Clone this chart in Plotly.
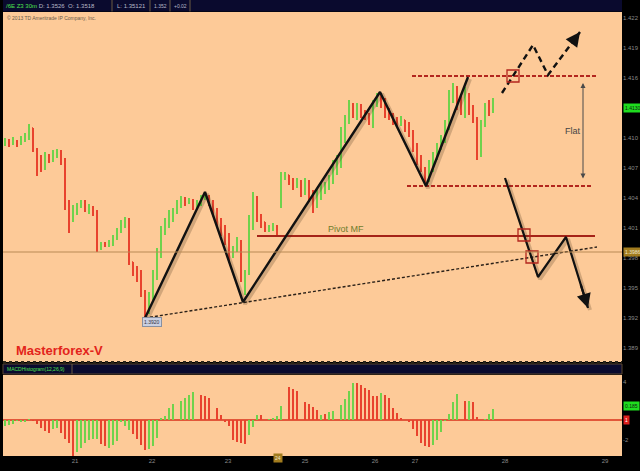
import plotly.graph_objects as go
from plotly.subplots import make_subplots

W, H = 640, 471


def fx(px):
    return px / W


def fy(py):
    return 1 - py / H


# ---------------- data ----------------
bar_index = list(range(123))

open_ = [1.4094, 1.4096, 1.4095, 1.4097, 1.4094, 1.4098, 1.4101, 1.4110, 1.4088, 1.4075,
         1.4070, 1.4080, 1.4078, 1.4083, 1.4086, 1.4078, 1.4033, 1.4018, 1.4028, 1.4032,
         1.4036, 1.4030, 1.4031, 1.4026, 1.3990, 1.3994, 1.3993, 1.3995, 1.4000, 1.4006,
         1.4013, 1.4018, 1.3976, 1.3968, 1.3966, 1.3946, 1.3926, 1.3940, 1.3963, 1.3983,
         1.4006, 1.4016, 1.4023, 1.4026, 1.4033, 1.4038, 1.4036, 1.4038, 1.4033, 1.4034,
         1.4040, 1.4042, 1.4036, 1.4028, 1.4018, 1.4010, 1.4003, 1.3986, 1.3988, 1.3996,
         1.3963, 1.3966, 1.4013, 1.4038, 1.4023, 1.4016, 1.4010, 1.4011, 1.4012, 1.4033,
         1.4060, 1.4063, 1.4058, 1.4053, 1.4055, 1.4048, 1.4055, 1.4043, 1.4033, 1.4043,
         1.4048, 1.4052, 1.4058, 1.4070, 1.4078, 1.4103, 1.4118, 1.4134, 1.4128, 1.4130,
         1.4126, 1.4123, 1.4116, 1.4133, 1.4141, 1.4138, 1.4128, 1.4123, 1.4118, 1.4116,
         1.4118, 1.4113, 1.4106, 1.4093, 1.4081, 1.4070, 1.4058, 1.4070, 1.4080, 1.4088,
         1.4098, 1.4110, 1.4138, 1.4150, 1.4138, 1.4130, 1.4143, 1.4128, 1.4120, 1.4083,
         1.4113, 1.4130, 1.4126]

high = [1.4100, 1.4099, 1.4101, 1.4098, 1.4102, 1.4105, 1.4114, 1.4110, 1.4090, 1.4083,
        1.4086, 1.4084, 1.4088, 1.4089, 1.4088, 1.4080, 1.4038, 1.4033, 1.4035, 1.4038,
        1.4038, 1.4034, 1.4032, 1.4028, 1.3996, 1.3996, 1.3998, 1.4003, 1.4010, 1.4018,
        1.4021, 1.4020, 1.3976, 1.3972, 1.3968, 1.3948, 1.3946, 1.3968, 1.3990, 1.4012,
        1.4020, 1.4028, 1.4030, 1.4038, 1.4042, 1.4041, 1.4040, 1.4039, 1.4038, 1.4043,
        1.4046, 1.4043, 1.4038, 1.4030, 1.4020, 1.4013, 1.4005, 1.3992, 1.4001, 1.3998,
        1.3968, 1.4023, 1.4046, 1.4042, 1.4024, 1.4016, 1.4013, 1.4015, 1.4013, 1.4066,
        1.4066, 1.4063, 1.4060, 1.4060, 1.4058, 1.4060, 1.4058, 1.4048, 1.4050, 1.4055,
        1.4056, 1.4063, 1.4078, 1.4083, 1.4111, 1.4123, 1.4138, 1.4135, 1.4135, 1.4134,
        1.4128, 1.4125, 1.4138, 1.4145, 1.4145, 1.4140, 1.4130, 1.4125, 1.4121, 1.4122,
        1.4118, 1.4116, 1.4108, 1.4095, 1.4083, 1.4071, 1.4078, 1.4086, 1.4095, 1.4103,
        1.4118, 1.4148, 1.4155, 1.4152, 1.4143, 1.4151, 1.4145, 1.4133, 1.4121, 1.4118,
        1.4135, 1.4138, 1.4140]

low = [1.4092, 1.4091, 1.4093, 1.4091, 1.4093, 1.4096, 1.4098, 1.4086, 1.4062, 1.4066,
       1.4068, 1.4075, 1.4076, 1.4080, 1.4073, 1.4028, 1.4005, 1.4016, 1.4023, 1.4030,
       1.4026, 1.4024, 1.4022, 1.3986, 1.3988, 1.3991, 1.3991, 1.3992, 1.3998, 1.4005,
       1.4010, 1.3973, 1.3962, 1.3956, 1.3941, 1.3920, 1.3924, 1.3938, 1.3958, 1.3980,
       1.4003, 1.4010, 1.4016, 1.4024, 1.4030, 1.4032, 1.4034, 1.4028, 1.4030, 1.4032,
       1.4038, 1.4032, 1.4023, 1.4012, 1.4002, 1.3993, 1.3976, 1.3980, 1.3986, 1.3956,
       1.3943, 1.3963, 1.4008, 1.4016, 1.4010, 1.4006, 1.4006, 1.4007, 1.4003, 1.4030,
       1.4058, 1.4053, 1.4048, 1.4050, 1.4041, 1.4043, 1.4036, 1.4025, 1.4030, 1.4038,
       1.4044, 1.4048, 1.4054, 1.4063, 1.4070, 1.4095, 1.4114, 1.4120, 1.4118, 1.4120,
       1.4118, 1.4113, 1.4110, 1.4131, 1.4130, 1.4120, 1.4118, 1.4113, 1.4111, 1.4112,
       1.4106, 1.4101, 1.4086, 1.4073, 1.4066, 1.4053, 1.4056, 1.4066, 1.4078, 1.4088,
       1.4095, 1.4108, 1.4135, 1.4128, 1.4123, 1.4120, 1.4123, 1.4115, 1.4078, 1.4081,
       1.4111, 1.4122, 1.4125]

close = [1.4096, 1.4095, 1.4097, 1.4094, 1.4098, 1.4101, 1.4110, 1.4088, 1.4075, 1.4070,
         1.4080, 1.4078, 1.4083, 1.4086, 1.4078, 1.4033, 1.4018, 1.4028, 1.4032, 1.4036,
         1.4030, 1.4031, 1.4026, 1.3990, 1.3994, 1.3993, 1.3995, 1.4000, 1.4006, 1.4013,
         1.4018, 1.3976, 1.3968, 1.3966, 1.3946, 1.3926, 1.3940, 1.3963, 1.3983, 1.4006,
         1.4016, 1.4023, 1.4026, 1.4033, 1.4038, 1.4036, 1.4038, 1.4033, 1.4034, 1.4040,
         1.4042, 1.4036, 1.4028, 1.4018, 1.4010, 1.4003, 1.3986, 1.3988, 1.3996, 1.3963,
         1.3966, 1.4013, 1.4038, 1.4023, 1.4016, 1.4010, 1.4011, 1.4012, 1.4006, 1.4060,
         1.4063, 1.4058, 1.4053, 1.4055, 1.4048, 1.4055, 1.4043, 1.4033, 1.4043, 1.4048,
         1.4052, 1.4058, 1.4070, 1.4078, 1.4103, 1.4118, 1.4134, 1.4128, 1.4130, 1.4126,
         1.4123, 1.4116, 1.4133, 1.4141, 1.4138, 1.4128, 1.4123, 1.4118, 1.4116, 1.4118,
         1.4113, 1.4106, 1.4093, 1.4081, 1.4070, 1.4058, 1.4070, 1.4080, 1.4088, 1.4098,
         1.4110, 1.4138, 1.4150, 1.4138, 1.4130, 1.4143, 1.4128, 1.4120, 1.4083, 1.4113,
         1.4130, 1.4126, 1.4133]

macd_hist = [-0.6, -0.5, -0.4, -0.1, -0.2, -0.2, 0.1, -0.1, -0.4, -0.8,
             -1.1, -1.3, -0.9, -0.8, -1.3, -1.9, -2.3, -3.6, -3.2, -2.8,
             -2.3, -2.0, -1.9, -1.9, -2.4, -2.6, -2.8, -2.5, -2.1, -0.2,
             -0.6, -1.0, -1.4, -1.9, -2.5, -3.0, -2.9, -2.6, -1.8, 0.2,
             0.4, 1.2, 1.6, 0.0, 1.9, 2.2, 2.5, 2.8, 0.0, 2.5,
             2.4, 2.2, 0.0, 1.2, 0.5, -0.2, -0.6, -2.0, -2.2, -2.3,
             -2.4, -1.5, -0.7, 0.5, 0.5, 0.0, 0.1, 0.2, 0.4, 1.4,
             0.0, 3.3, 3.1, 2.9, 0.0, 1.8, 1.6, 1.3, 1.0, 0.5,
             0.6, 0.8, 0.9, 0.0, 1.5, 2.1, 2.9, 3.7, 3.7, 3.5,
             3.2, 3.0, 2.4, 2.4, 2.7, 2.5, 2.2, 1.2, 0.7, 0.2,
             0.0, -0.2, -0.9, -1.6, -2.3, -2.6, -2.7, -2.5, -2.0, -1.2,
             -0.1, 0.6, 1.8, 2.6, 0.0, 1.9, 1.9, 1.8, 0.3, 0.0,
             0.1, 0.6, 1.1]

hist_dir = ("gggggggrrr" "rrggrrrrgg" "ggggrrgggg" "ggrrrrgggg" "ggggggggrr"
            "rrrrrrrrrr" "rgggrggggg" "rrrrrrrrrg" "rgggggggrr" "rrrrgrrrrr"
            "rrrrrrrggg" "ggggrrgrrg" "ggg")

# drawn analysis (bar index, price)
zigzag_x = [35, 50, 59.5, 93.75, 105.25, 115.75]
zigzag_y = [1.3920, 1.4046, 1.3936, 1.4146, 1.4052, 1.4161]
trend_x = [35, 148]
trend_y = [1.3920, 1.3991]
flat_top_x = [101.75, 148]
flat_top_y = [1.4162, 1.4162]
flat_bot_x = [100.5, 146.75]
flat_bot_y = [1.4052, 1.4052]
pivot_x = [63, 147.5]
pivot_y = [1.4002, 1.4002]
last_price = 1.3986
up_path_x = [124.25, 132, 135.75, 143.75]
up_path_y = [1.4145, 1.4193, 1.4163, 1.4206]
down_path_x = [125, 133.25, 140.25, 145.75]
down_path_y = [1.4060, 1.3961, 1.4001, 1.3930]
box_x = [127, 129.75, 131.75]
box_y = [1.4162, 1.4003, 1.3981]
flat_arrow_x = 144.5
flat_arrow_y = [1.4155, 1.4058]

price_ticks = [1.4220, 1.4190, 1.4160, 1.4100, 1.4070, 1.4040, 1.4010, 1.3980, 1.3950, 1.3920, 1.3890]
price_tick_text = ["1.422", "1.419", "1.416", "1.410", "1.407", "1.404", "1.401", "1.398", "1.395", "1.392", "1.389"]
hist_ticks = [3.8, -2.0]
hist_tick_text = ["4", "-2"]
time_tick_pos = [17.5, 36.75, 55.75, 75, 92.5, 102.5, 125, 150]
time_tick_text = ["21", "22", "23", "25", "26", "27", "28", "29"]

GREEN = "#6fd24c"
RED = "#e8432e"
PEACH = "#fdca98"
NAVY = "#0a0a2e"

# shadow offset for hand-drawn lines (in data units ~ 2px right, 2px down)
SHX, SHY = 0.5, -0.0002

fig = make_subplots(rows=2, cols=1, shared_xaxes=True)

fig.add_trace(go.Ohlc(x=bar_index, open=open_, high=high, low=low, close=close,
                      increasing=dict(line=dict(color=GREEN, width=2)),
                      decreasing=dict(line=dict(color=RED, width=2)),
                      tickwidth=0.2, hoverinfo="skip"), row=1, col=1)

fig.add_trace(go.Bar(x=bar_index, y=macd_hist,
                     marker=dict(color=[GREEN if c == "g" else RED for c in hist_dir], line=dict(width=0)),
                     width=0.5, hoverinfo="skip"), row=2, col=1)

# trend (dotted)
fig.add_trace(go.Scatter(x=trend_x, y=trend_y, mode="lines",
                         line=dict(color="#2a2018", width=1.4, dash="3px,2px"), hoverinfo="skip"), row=1, col=1)
# flat range lines
for xs, ys in [(flat_top_x, flat_top_y), (flat_bot_x, flat_bot_y)]:
    fig.add_trace(go.Scatter(x=xs, y=ys, mode="lines",
                             line=dict(color="#b3261e", width=2, dash="4px,2px"), hoverinfo="skip"), row=1, col=1)
# pivot line
fig.add_trace(go.Scatter(x=pivot_x, y=pivot_y, mode="lines",
                         line=dict(color="#a52318", width=2), hoverinfo="skip"), row=1, col=1)
# soft shadows under the drawn lines
for xs, ys in [(zigzag_x, zigzag_y), (down_path_x, down_path_y)]:
    fig.add_trace(go.Scatter(x=[v + SHX for v in xs], y=[v + SHY for v in ys], mode="lines",
                             line=dict(color="rgba(60,40,20,0.22)", width=4), hoverinfo="skip"), row=1, col=1)
# zigzag
fig.add_trace(go.Scatter(x=zigzag_x, y=zigzag_y, mode="lines",
                         line=dict(color="#111111", width=2.4), hoverinfo="skip"), row=1, col=1)
# projected paths
fig.add_trace(go.Scatter(x=up_path_x, y=up_path_y, mode="lines",
                         line=dict(color="#111111", width=2.4, dash="6px,4px"), hoverinfo="skip"), row=1, col=1)
fig.add_trace(go.Scatter(x=down_path_x, y=down_path_y, mode="lines",
                         line=dict(color="#111111", width=2.2), hoverinfo="skip"), row=1, col=1)
# red boxes
fig.add_trace(go.Scatter(x=box_x, y=box_y, mode="markers",
                         marker=dict(symbol="square-open", size=12, color="#b3261e", line=dict(width=1.3)),
                         hoverinfo="skip"), row=1, col=1)

shapes = []
# current price line
shapes.append(dict(type="line", xref="x domain", yref="y", x0=0, x1=1, y0=last_price, y1=last_price,
                   line=dict(color="#b98a55", width=1)))
# header bars
shapes.append(dict(type="rect", xref="paper", yref="paper", x0=fx(3), x1=fx(622), y0=fy(11.5), y1=1,
                   fillcolor=NAVY, line=dict(width=0), layer="above"))
for sx in [112, 150, 170, 190]:
    shapes.append(dict(type="line", xref="paper", yref="paper", x0=fx(sx), x1=fx(sx), y0=fy(11.5), y1=1,
                       line=dict(color="#6a5a40", width=1), layer="above"))
shapes.append(dict(type="rect", xref="paper", yref="paper", x0=fx(3), x1=fx(622), y0=fy(374), y1=fy(364),
                   fillcolor=NAVY, line=dict(color="#5a4630", width=1), layer="above"))
shapes.append(dict(type="line", xref="paper", yref="paper", x0=fx(72), x1=fx(72), y0=fy(374), y1=fy(364),
                   line=dict(color="#6a5a40", width=1), layer="above"))
shapes.append(dict(type="line", xref="paper", yref="paper", x0=fx(3), x1=fx(622), y0=fy(362), y1=fy(362),
                   line=dict(color="#2a2418", width=2, dash="dot"), layer="above"))

ann = []
small = dict(family="Liberation Sans, Arial, sans-serif", size=6)
ann.append(dict(xref="paper", yref="paper", x=fx(4), y=fy(6), xanchor="left", yanchor="middle", showarrow=False,
                text="<span style='color:#4fe04f'>/6E Z3 30m</span> <span style='color:#b8b8c8'>D: 1.3526  O: 1.3518</span>",
                font=small))
ann.append(dict(xref="paper", yref="paper", x=fx(115), y=fy(6), xanchor="left", yanchor="middle", showarrow=False,
                text="L: 1.35121", font=dict(small, color="#b8b8c8")))
ann.append(dict(xref="paper", yref="paper", x=fx(152), y=fy(6), xanchor="left", yanchor="middle", showarrow=False,
                text="1.352", font=dict(small, size=5, color="#b8b8c8")))
ann.append(dict(xref="paper", yref="paper", x=fx(172), y=fy(6), xanchor="left", yanchor="middle", showarrow=False,
                text="+0.02", font=dict(small, size=5, color="#b8b8c8")))
ann.append(dict(xref="paper", yref="paper", x=fx(5), y=fy(18), xanchor="left", yanchor="middle", showarrow=False,
                text="© 2013 TD Ameritrade IP Company, Inc.", font=dict(small, size=5, color="#6a5a4a")))
ann.append(dict(xref="paper", yref="paper", x=fx(5), y=fy(369), xanchor="left", yanchor="middle", showarrow=False,
                text="MACDHistogram(12,26,9)", font=dict(small, size=5, color="#4fe04f")))
ann.append(dict(xref="paper", yref="paper", x=fx(14), y=fy(350), xanchor="left", yanchor="middle", showarrow=False,
                text="<b>Masterforex-V</b>",
                font=dict(family="Liberation Sans Narrow, Arial Narrow, Liberation Sans, Arial", size=13, color="#e3241b")))
ann.append(dict(x=85.25, y=1.4009, xref="x", yref="y", showarrow=False, text="Pivot MF",
                font=dict(family="Liberation Sans, Arial", size=9, color="#6f7d2c")))
ann.append(dict(x=142, y=1.4107, xref="x", yref="y", showarrow=False, text="Flat",
                font=dict(family="Liberation Sans, Arial", size=9, color="#444444")))
ann.append(dict(x=36.75, y=1.3916, xref="x", yref="y", showarrow=False, text="1.3920",
                font=dict(family="Liberation Sans, Arial", size=5, color="#333344"),
                bgcolor="#c9cfe0", bordercolor="#8890a0", borderwidth=1, borderpad=1))


def head(xs, ys, frac=0.25):
    return dict(x=xs[-1], y=ys[-1], ax=xs[-1] + frac * (xs[-2] - xs[-1]), ay=ys[-1] + frac * (ys[-2] - ys[-1]),
                xref="x", yref="y", axref="x", ayref="y", showarrow=True, arrowhead=2, arrowsize=1.3,
                arrowwidth=2.2, arrowcolor="#111111", text="")


ann.append(head(up_path_x, up_path_y, 0.22))
ann.append(head(down_path_x, down_path_y, 0.35))
ann.append(dict(x=flat_arrow_x, y=flat_arrow_y[0], ax=flat_arrow_x, ay=flat_arrow_y[1], xref="x", yref="y",
                axref="x", ayref="y", showarrow=True, arrowhead=2, arrowside="end+start", arrowsize=1,
                arrowwidth=1, arrowcolor="#4a4a4a", text=""))
# axis value boxes
ann.append(dict(xref="paper", yref="y", x=fx(623), y=1.4130, xanchor="left", showarrow=False, text="1.4130",
                font=dict(small, size=5, color="#102010"), bgcolor="#1fdc1f", borderpad=1))
ann.append(dict(xref="paper", yref="y", x=fx(623), y=last_price, xanchor="left", showarrow=False, text="1.3986",
                font=dict(small, size=5, color="#f0e8d0"), bgcolor="#a27c1e", borderpad=1))
ann.append(dict(xref="paper", yref="y2", x=fx(623), y=1.4, xanchor="left", showarrow=False, text="0.185",
                font=dict(small, size=5, color="#102010"), bgcolor="#1fdc1f", borderpad=1))
ann.append(dict(xref="paper", yref="y2", x=fx(622.5), y=0, xanchor="left", showarrow=False, text="1",
                font=dict(small, size=5, color="#ffffff"), bgcolor="#e0201c", borderpad=1))
ann.append(dict(xref="x2", yref="paper", x=68.25, y=fy(463), showarrow=False, text="24",
                font=dict(small, size=5, color="#f0e8d0"), bgcolor="#a27c1e", borderpad=1))

fig.update_layout(
    width=W, height=H, margin=dict(l=0, r=0, t=0, b=0), autosize=False,
    paper_bgcolor="#000000", plot_bgcolor=PEACH, showlegend=False,
    shapes=shapes, annotations=ann, bargap=0,
    xaxis=dict(domain=[fx(3), fx(622)], range=[-0.5, 154.25], showgrid=False, zeroline=False,
               showticklabels=False, rangeslider=dict(visible=False), fixedrange=True),
    xaxis2=dict(domain=[fx(3), fx(622)], range=[-0.5, 154.25], showgrid=False, zeroline=False,
                tickvals=time_tick_pos, ticktext=time_tick_text, ticks="",
                tickfont=dict(family="Liberation Sans, Arial", size=6, color="#8a8a8a"),
                rangeslider=dict(visible=False)),
    yaxis=dict(domain=[fy(362), fy(12)], range=[1.3876, 1.4226], side="right", showgrid=False,
               zeroline=False, tickvals=price_ticks, ticktext=price_tick_text, ticks="",
               tickfont=dict(family="Liberation Sans, Arial", size=6, color="#8a8a8a")),
    yaxis2=dict(domain=[fy(456), fy(375)], range=[-3.6, 4.5], side="right", showgrid=False,
                zeroline=True, zerolinecolor="#e2573a", zerolinewidth=1.5,
                tickvals=hist_ticks, ticktext=hist_tick_text, ticks="",
                tickfont=dict(family="Liberation Sans, Arial", size=6, color="#8a8a8a")),
)

fig.write_html("out.html", config={"displayModeBar": False},
               post_script="document.body.style.margin='0';document.body.style.overflow='hidden';")
